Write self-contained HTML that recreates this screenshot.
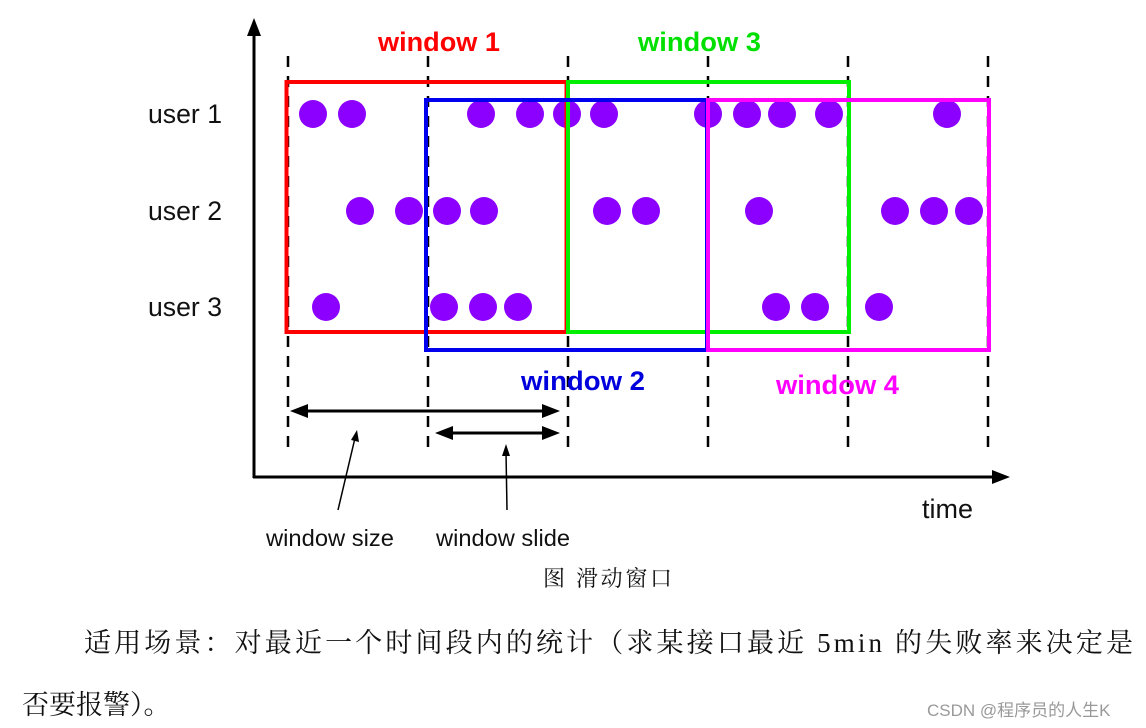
<!DOCTYPE html>
<html><head><meta charset="utf-8"><style>
html,body{margin:0;padding:0;background:#fff;}
svg{display:block;}
</style></head><body>
<svg width="1146" height="728" viewBox="0 0 1146 728" xmlns="http://www.w3.org/2000/svg">
<line x1="254" y1="478" x2="254" y2="34" stroke="#000" stroke-width="3"/>
<path d="M247,36 L254,18 L261,36 Z" fill="#000"/>
<line x1="253" y1="477" x2="995" y2="477" stroke="#000" stroke-width="3"/>
<path d="M992,470 L1010,477 L992,484 Z" fill="#000"/>
<g stroke="#000" stroke-width="2.5" stroke-dasharray="11,9">
<line x1="288" y1="56" x2="288" y2="455"/>
<line x1="428" y1="56" x2="428" y2="455"/>
<line x1="568" y1="56" x2="568" y2="455"/>
<line x1="708" y1="56" x2="708" y2="455"/>
<line x1="848" y1="56" x2="848" y2="455"/>
<line x1="988" y1="56" x2="988" y2="455"/>
</g>
<g fill="#8b00ff">
<circle cx="313" cy="114" r="14"/><circle cx="352" cy="114" r="14"/><circle cx="481" cy="114" r="14"/><circle cx="530" cy="114" r="14"/><circle cx="567" cy="114" r="14"/><circle cx="604" cy="114" r="14"/><circle cx="708" cy="114" r="14"/><circle cx="747" cy="114" r="14"/><circle cx="782" cy="114" r="14"/><circle cx="829" cy="114" r="14"/><circle cx="947" cy="114" r="14"/>
<circle cx="360" cy="211" r="14"/><circle cx="409" cy="211" r="14"/><circle cx="447" cy="211" r="14"/><circle cx="484" cy="211" r="14"/><circle cx="607" cy="211" r="14"/><circle cx="646" cy="211" r="14"/><circle cx="759" cy="211" r="14"/><circle cx="895" cy="211" r="14"/><circle cx="934" cy="211" r="14"/><circle cx="969" cy="211" r="14"/>
<circle cx="326" cy="307" r="14"/><circle cx="444" cy="307" r="14"/><circle cx="483" cy="307" r="14"/><circle cx="518" cy="307" r="14"/><circle cx="776" cy="307" r="14"/><circle cx="815" cy="307" r="14"/><circle cx="879" cy="307" r="14"/>
</g>
<rect x="286.5" y="82" width="280" height="250" fill="none" stroke="#ff0000" stroke-width="4"/>
<rect x="568" y="82" width="281" height="250" fill="none" stroke="#00ee00" stroke-width="4"/>
<rect x="426" y="100" width="281" height="250" fill="none" stroke="#0000ee" stroke-width="4"/>
<rect x="708" y="100" width="281" height="250" fill="none" stroke="#ff00ff" stroke-width="4"/>
<g font-family="Liberation Sans, sans-serif" font-weight="bold" font-size="27">
<text x="378" y="51" fill="#ff0000" textLength="122" lengthAdjust="spacingAndGlyphs">window 1</text>
<text x="638" y="51" fill="#00e000" textLength="123" lengthAdjust="spacingAndGlyphs">window 3</text>
<text x="521" y="390" fill="#0000dd" textLength="124" lengthAdjust="spacingAndGlyphs">window 2</text>
<text x="776" y="394" fill="#ff00ff" textLength="123" lengthAdjust="spacingAndGlyphs">window 4</text>
</g>
<g font-family="Liberation Sans, sans-serif" font-size="27" fill="#111">
<text x="148" y="123" textLength="74" lengthAdjust="spacingAndGlyphs">user 1</text>
<text x="148" y="220" textLength="74" lengthAdjust="spacingAndGlyphs">user 2</text>
<text x="148" y="316" textLength="74" lengthAdjust="spacingAndGlyphs">user 3</text>
<text x="922" y="518" textLength="51" lengthAdjust="spacingAndGlyphs">time</text>
</g>
<line x1="305" y1="411" x2="545" y2="411" stroke="#000" stroke-width="3"/>
<path d="M290,411 L308,404 L308,418 Z" fill="#000"/><path d="M560,411 L542,404 L542,418 Z" fill="#000"/>
<line x1="450" y1="433" x2="545" y2="433" stroke="#000" stroke-width="3"/>
<path d="M435,433 L453,426 L453,440 Z" fill="#000"/><path d="M560,433 L542,426 L542,440 Z" fill="#000"/>
<line x1="338" y1="510" x2="355" y2="438" stroke="#000" stroke-width="1.5"/>
<path d="M357,430 L359,442 L351,440 Z" fill="#000"/>
<line x1="507" y1="510" x2="506" y2="452" stroke="#000" stroke-width="1.5"/>
<path d="M506,444 L510,456 L502,456 Z" fill="#000"/>
<g font-family="Liberation Sans, sans-serif" font-size="23" fill="#111">
<text x="266" y="546" textLength="128" lengthAdjust="spacingAndGlyphs">window size</text>
<text x="436" y="546" textLength="134" lengthAdjust="spacingAndGlyphs">window slide</text>
</g>
<text x="543" y="586" font-family="'Noto Serif CJK SC', serif" font-size="22" fill="#111" textLength="129">图 滑动窗口</text>
<text x="84" y="652" font-family="Liberation Serif, 'Noto Serif CJK SC', serif" font-size="27" fill="#111" textLength="1049">适用场景：对最近一个时间段内的统计（求某接口最近 5min 的失败率来决定是</text>
<text x="22" y="714" font-family="'Noto Serif CJK SC', serif" font-size="27" fill="#111">否要报警）。</text>
<text x="927" y="716" font-family="Liberation Sans, 'Noto Sans CJK SC', sans-serif" font-size="17" fill="#999">CSDN @程序员的人生K</text>
</svg>
</body></html>
